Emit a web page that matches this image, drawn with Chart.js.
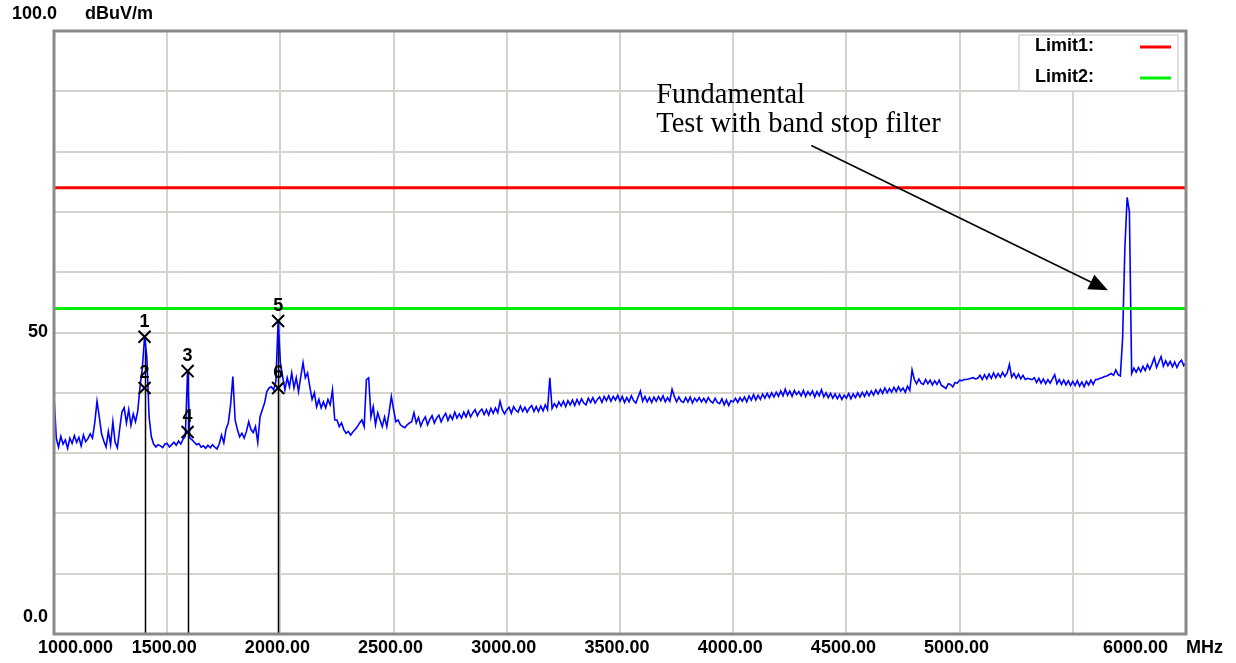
<!DOCTYPE html>
<html>
<head>
<meta charset="utf-8">
<title>Radiated emission 1 - 6 GHz</title>
<script src="https://cdn.jsdelivr.net/npm/chart.js@4.4.1/dist/chart.umd.min.js"></script>
<style>
  html, body { margin: 0; padding: 0; background: #fff; }
  #wrap { width: 1236px; height: 663px; }
</style>
</head>
<body>
<div id="wrap"><canvas id="emiChart" width="1236" height="663"></canvas></div>
<script>
// Sweep: 1000 - 6000 MHz, one reading every 10 MHz (dBuV/m)
const sweepStartMHz = 1000;
const sweepStepMHz = 10;
const traceLevels = [
  39.5, 32.5, 31.0, 32.8, 31.5, 32.2, 30.8, 32.5, 31.6, 32.9, // 1000
  31.8, 32.6, 31.2, 33.0, 31.9, 32.4, 33.2, 32.5, 35.0, 38.6, // 1100
  36.0, 33.2, 32.0, 31.0, 33.6, 31.4, 35.2, 31.8, 30.9, 34.0, // 1200
  36.8, 37.5, 35.0, 37.2, 34.6, 36.5, 35.2, 37.0, 41.0, 44.0, // 1300
  49.3, 46.0, 36.0, 32.7, 31.5, 31.0, 31.4, 31.2, 30.9, 31.5, // 1400
  31.6, 31.0, 31.4, 31.8, 31.3, 32.0, 31.5, 32.3, 32.8, 43.6, // 1500
  32.5, 32.2, 31.8, 31.4, 31.6, 31.0, 31.2, 30.8, 31.3, 30.9, // 1600
  31.4, 31.0, 30.7, 31.5, 33.0, 31.7, 34.0, 35.0, 38.0, 42.7, // 1700
  35.5, 33.9, 32.7, 33.3, 32.5, 33.6, 35.2, 33.9, 33.4, 34.4, // 1800
  31.8, 36.0, 37.2, 38.3, 40.2, 40.8, 41.0, 40.5, 41.9, 51.9, // 1900
  45.0, 42.7, 40.5, 42.5, 41.0, 43.3, 40.8, 42.5, 40.2, 42.7, // 2000
  45.0, 42.5, 43.3, 41.0, 38.9, 40.0, 37.7, 38.9, 37.5, 38.5, // 2100
  37.5, 38.9, 38.0, 40.5, 35.5, 35.5, 34.4, 35.0, 33.9, 33.3, // 2200
  33.6, 33.0, 33.5, 33.9, 34.4, 35.0, 35.5, 34.4, 42.2, 42.5, // 2300
  36.0, 37.7, 34.7, 36.7, 35.5, 34.4, 36.0, 34.4, 36.7, 39.4, // 2400
  37.2, 35.2, 35.5, 34.7, 34.4, 34.2, 34.7, 35.0, 35.2, 36.7, // 2500
  35.0, 35.9, 34.5, 35.4, 36.0, 34.7, 35.6, 36.2, 35.0, 35.8, // 2600
  36.3, 35.2, 36.0, 36.6, 35.4, 36.3, 35.6, 36.8, 35.8, 36.5, // 2700
  35.8, 36.8, 36.0, 37.0, 36.0, 36.7, 37.2, 36.2, 36.9, 37.3, // 2800
  36.4, 37.2, 36.3, 37.4, 36.6, 37.5, 36.7, 38.6, 37.2, 36.5, // 2900
  37.2, 37.6, 36.6, 37.7, 37.1, 36.8, 37.8, 36.9, 37.6, 36.8, // 3000
  37.5, 37.9, 36.9, 37.7, 36.9, 37.8, 37.0, 38.0, 37.2, 42.5, // 3100
  37.4, 38.2, 37.6, 38.5, 37.8, 38.6, 37.7, 38.7, 38.0, 38.8, // 3200
  37.9, 38.9, 38.1, 39.0, 38.3, 38.0, 39.1, 38.4, 39.2, 38.3, // 3300
  38.9, 39.3, 38.4, 39.4, 38.7, 39.5, 38.6, 39.4, 38.8, 39.6, // 3400
  38.6, 39.4, 38.4, 39.2, 38.5, 39.5, 38.7, 38.3, 39.3, 40.3, // 3500
  38.6, 39.4, 38.5, 39.2, 38.4, 39.3, 38.6, 39.4, 38.7, 39.5, // 3600
  38.5, 39.2, 38.6, 40.6, 39.4, 38.5, 39.3, 38.6, 38.4, 39.2, // 3700
  38.5, 39.3, 38.3, 39.1, 38.6, 39.2, 38.5, 39.1, 38.4, 39.2, // 3800
  38.6, 38.3, 39.1, 38.4, 38.2, 39.0, 38.0, 38.8, 37.9, 38.7, // 3900
  38.5, 39.1, 38.4, 39.2, 38.6, 39.3, 38.5, 39.5, 38.8, 39.7, // 4000
  38.8, 39.6, 38.9, 39.8, 39.1, 39.9, 39.2, 40.0, 39.3, 40.1, // 4100
  39.4, 40.3, 39.5, 40.6, 39.6, 40.3, 39.4, 40.4, 39.7, 40.2, // 4200
  39.5, 40.4, 39.4, 40.2, 39.6, 40.3, 39.3, 40.2, 39.5, 40.5, // 4300
  39.3, 40.0, 39.2, 39.9, 39.1, 39.8, 39.0, 39.7, 38.9, 39.6, // 4400
  39.1, 39.9, 39.0, 39.8, 39.2, 40.0, 39.3, 40.1, 39.4, 40.2, // 4500
  39.5, 40.3, 39.6, 40.5, 39.8, 40.6, 39.9, 40.8, 40.0, 40.7, // 4600
  40.1, 40.9, 40.2, 41.0, 40.3, 40.8, 40.1, 41.1, 40.4, 43.8, // 4700
  42.2, 41.5, 42.3, 41.6, 41.4, 42.2, 41.5, 42.1, 41.3, 42.0, // 4800
  41.4, 42.1, 41.2, 41.0, 40.7, 41.5, 41.4, 41.0, 41.7, 41.6, // 4900
  42.1, 42.0, 42.2, 42.2, 42.3, 42.4, 42.5, 42.3, 42.4, 42.9, // 5000
  42.2, 43.0, 42.3, 43.1, 42.4, 43.3, 42.5, 43.2, 42.6, 43.4, // 5100
  42.7, 43.3, 44.7, 42.6, 43.2, 42.4, 43.1, 42.3, 42.9, 42.2, // 5200
  42.4, 42.3, 42.2, 42.5, 41.7, 42.4, 41.6, 42.3, 41.5, 42.2, // 5300
  41.6, 42.3, 43.0, 41.5, 42.2, 41.4, 42.1, 41.3, 42.0, 41.2, // 5400
  41.9, 41.2, 42.0, 41.1, 41.8, 41.0, 41.9, 41.3, 42.1, 41.4, // 5500
  42.2, 42.2, 42.4, 42.5, 42.7, 42.8, 43.0, 43.2, 42.9, 43.8, // 5600
  43.0, 42.8, 49.0, 64.0, 72.4, 70.0, 43.2, 44.1, 43.4, 44.2, // 5700
  43.5, 44.4, 43.7, 44.7, 43.9, 44.8, 45.8, 44.2, 45.1, 46.0, // 5800
  44.4, 45.3, 44.5, 45.2, 44.3, 45.1, 44.2, 45.0, 45.4, 44.5, // 5900
  45.0                                                        // 6000
];

// Limits
const limitNames = ["Limit1:", "Limit2:"];
const limitLevels = [74, 54];
const limitColors = ["#ff0000", "#00ee00"];

// Markers
const markerNumbers = ["1", "2", "3", "4", "5", "6"];
const markerFreqs = [1400, 1400, 1590, 1590, 1990, 1990];
const markerLevels = [49.3, 40.8, 43.6, 33.5, 51.9, 40.8];

// Axes
const xTickValues = [1000, 1500, 2000, 2500, 3000, 3500, 4000, 4500, 5000, 6000];
const xTickLabels = ["1000.000", "1500.00", "2000.00", "2500.00", "3000.00", "3500.00",
  "4000.00", "4500.00", "5000.00", "6000.00"];
const xUnit = "MHz";
const yTickValues = [100, 50, 0];
const yTickLabels = ["100.0", "50", "0.0"];
const yUnit = "dBuV/m";

// Note with arrow (in MHz / dBuV/m)
const noteLines = ["Fundamental", "Test with band stop filter"];
const noteAt = [3660, 88];
const arrowFrom = [4345, 81];
const arrowTo = [5655, 57];

const boldFont = 'bold 18px "Liberation Sans", Arial, sans-serif';
const gridColor = "#d6d3ce";

const tracePoints = traceLevels.map((v, i) => ({ x: sweepStartMHz + i * sweepStepMHz, y: v }));
const markerPoints = markerFreqs.map((f, i) => ({ x: f, y: markerLevels[i] }));

const emiPlugin = {
  id: "emiDecor",
  beforeDatasetsDraw(chart) {
    const { ctx, chartArea, scales } = chart;
    // marker lines down to the axis
    ctx.save();
    ctx.strokeStyle = "#000";
    ctx.lineWidth = 1.5;
    const done = {};
    markerFreqs.forEach((f) => {
      if (done[f]) return;
      done[f] = true;
      const top = Math.max(...markerLevels.filter((_, j) => markerFreqs[j] === f));
      const x = Math.round(scales.x.getPixelForValue(f)) + 0.5;
      ctx.beginPath();
      ctx.moveTo(x, scales.y.getPixelForValue(top));
      ctx.lineTo(x, chartArea.bottom);
      ctx.stroke();
    });
    ctx.restore();
  },
  afterDraw(chart) {
    const { ctx, chartArea, scales } = chart;
    const xs = scales.x, ys = scales.y;
    ctx.save();

    // frame
    ctx.strokeStyle = "#8a8a8a";
    ctx.lineWidth = 3;
    ctx.strokeRect(chartArea.left, chartArea.top, chartArea.right - chartArea.left, chartArea.bottom - chartArea.top);

    // y labels
    ctx.fillStyle = "#000";
    ctx.font = boldFont;
    ctx.textBaseline = "middle";
    yTickValues.forEach((v, i) => {
      const y = ys.getPixelForValue(v);
      if (v === 100) {
        ctx.textAlign = "left";
        ctx.fillText(yTickLabels[i], 12, y - 17);
        ctx.fillText(yUnit, 85, y - 17);
      } else if (v === 0) {
        ctx.textAlign = "right";
        ctx.fillText(yTickLabels[i], chartArea.left - 6, y - 17);
      } else {
        ctx.textAlign = "right";
        ctx.fillText(yTickLabels[i], chartArea.left - 6, y);
      }
    });

    // x labels
    const labelY = chartArea.bottom + 14;
    xTickValues.forEach((v, i) => {
      const x = xs.getPixelForValue(v);
      if (i === 0) {
        ctx.textAlign = "left";
        ctx.fillText(xTickLabels[i], x - 16, labelY);
      } else if (i === xTickValues.length - 1) {
        ctx.textAlign = "right";
        ctx.fillText(xTickLabels[i], x - 18, labelY);
        ctx.textAlign = "left";
        ctx.fillText(xUnit, x, labelY);
      } else {
        ctx.textAlign = "center";
        ctx.fillText(xTickLabels[i], x - 3, labelY);
      }
    });

    // marker numbers
    ctx.textAlign = "center";
    markerNumbers.forEach((n, i) => {
      ctx.fillText(n, xs.getPixelForValue(markerFreqs[i]), ys.getPixelForValue(markerLevels[i]) - 15);
    });

    // legend box
    const bx = chartArea.right - 167, by = chartArea.top + 4, bw = 159, bh = 56;
    ctx.fillStyle = "#fff";
    ctx.fillRect(bx, by, bw, bh);
    ctx.strokeStyle = gridColor;
    ctx.lineWidth = 1.5;
    ctx.strokeRect(bx, by, bw, bh);
    ctx.textAlign = "left";
    limitNames.forEach((name, i) => {
      const y = by + 11 + i * 31;
      ctx.fillStyle = "#000";
      ctx.fillText(name, bx + 16, y);
      ctx.strokeStyle = limitColors[i];
      ctx.lineWidth = 3;
      ctx.beginPath();
      ctx.moveTo(bx + 121, y + 1);
      ctx.lineTo(bx + 152, y + 1);
      ctx.stroke();
    });

    // note and arrow
    ctx.fillStyle = "#000";
    ctx.font = '28.5px "Liberation Serif", "Times New Roman", serif';
    ctx.textBaseline = "alphabetic";
    const nx = xs.getPixelForValue(noteAt[0]);
    const ny = ys.getPixelForValue(noteAt[1]);
    noteLines.forEach((t, i) => ctx.fillText(t, nx, ny + i * 29));

    const ax = xs.getPixelForValue(arrowFrom[0]), ay = ys.getPixelForValue(arrowFrom[1]);
    const hx = xs.getPixelForValue(arrowTo[0]), hy = ys.getPixelForValue(arrowTo[1]);
    const ang = Math.atan2(hy - ay, hx - ax);
    const len = 19, half = 8;
    const baseX = hx - len * Math.cos(ang), baseY = hy - len * Math.sin(ang);
    ctx.strokeStyle = "#000";
    ctx.lineWidth = 1.6;
    ctx.beginPath();
    ctx.moveTo(ax, ay);
    ctx.lineTo(baseX, baseY);
    ctx.stroke();
    ctx.beginPath();
    ctx.moveTo(hx, hy);
    ctx.lineTo(baseX + half * Math.sin(ang), baseY - half * Math.cos(ang));
    ctx.lineTo(baseX - half * Math.sin(ang), baseY + half * Math.cos(ang));
    ctx.closePath();
    ctx.fill();

    ctx.restore();
  },
};

// Chart.js
const ctx = document.getElementById("emiChart").getContext("2d");
const chart = new Chart(ctx, {
  type: "line",
  data: {
    datasets: [
      {
        label: "Markers",
        type: "scatter",
        data: markerPoints,
        pointStyle: "crossRot",
        pointRadius: 8.5,
        borderColor: "#000",
        backgroundColor: "#000",
        pointBorderWidth: 2,
        showLine: false,
      },
      ...limitNames.map((name, i) => ({
        label: name,
        data: [{ x: 1000, y: limitLevels[i] }, { x: 6000, y: limitLevels[i] }],
        borderColor: limitColors[i],
        borderWidth: 3,
        pointRadius: 0,
      })),
      {
        label: "Trace",
        data: tracePoints,
        borderColor: "#0000ff",
        borderWidth: 1.6,
        pointRadius: 0,
        tension: 0,
      },
    ],
  },
  options: {
    responsive: false,
    animation: false,
    devicePixelRatio: 1,
    layout: { padding: { left: 54, right: 50, top: 31, bottom: 29 } },
    plugins: {
      legend: { display: false },
      tooltip: { enabled: false },
    },
    scales: {
      x: {
        type: "linear",
        min: 1000,
        max: 6000,
        ticks: { display: false, stepSize: 500 },
        grid: { color: gridColor, lineWidth: 2, drawTicks: false },
        border: { display: false },
      },
      y: {
        min: 0,
        max: 100,
        ticks: { display: false, stepSize: 10 },
        grid: { color: gridColor, lineWidth: 2, drawTicks: false },
        border: { display: false },
      },
    },
  },
  plugins: [emiPlugin],
});
</script>
</body>
</html>
